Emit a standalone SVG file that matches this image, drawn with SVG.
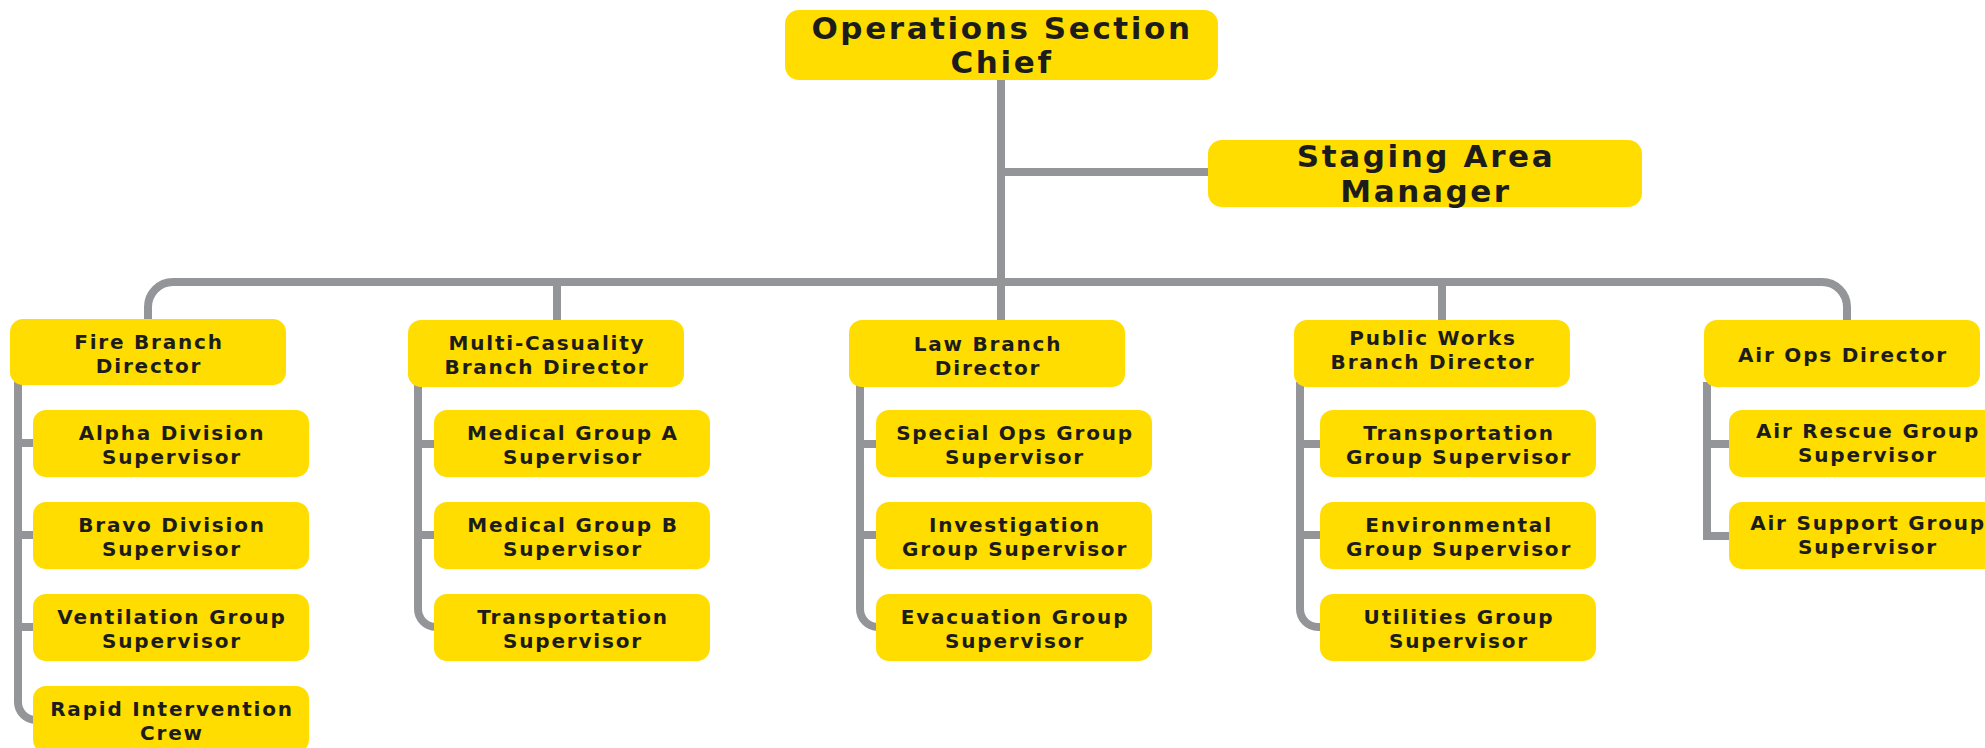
<svg xmlns="http://www.w3.org/2000/svg" width="1985" height="748" viewBox="0 0 1985 748">
<style>
.box{fill:#FFDD00;}
.t{font-family:"DejaVu Sans","Liberation Sans",sans-serif;font-weight:bold;fill:#1c1c1c;text-anchor:middle;}
.big{font-size:31px;letter-spacing:2.6px;}
.sm{font-size:20px;letter-spacing:1.8px;}
.ln{fill:none;stroke:#939598;stroke-width:8;}
</style>
<rect width="1985" height="748" fill="#ffffff"/>
<g id="connectors" class="ln">
<path d="M1001,78 V322"/>
<path d="M1001,172 H1210"/>
<path d="M148,322 V307 A25 25 0 0 1 173,282 H1822 A25 25 0 0 1 1847,307 V322"/>
<path d="M557,282 V322"/>
<path d="M1442,282 V322"/>
<path d="M18,380 V702 A18 18 0 0 0 36,720"/>
<path d="M18,443 H36 M18,535 H36 M18,627 H36"/>
<path d="M418,382 V609 A18 18 0 0 0 436,627"/>
<path d="M418,444 H436 M418,535 H436"/>
<path d="M860,382 V609 A18 18 0 0 0 878,627"/>
<path d="M860,444 H878 M860,535 H878"/>
<path d="M1300,382 V609 A18 18 0 0 0 1318,627 H1322"/>
<path d="M1300,444 H1322 M1300,535 H1322"/>
<path d="M1707,382 V536 H1732"/>
<path d="M1707,444 H1732"/>
</g>
<g id="ops-chief"><rect class="box" x="785" y="10" width="433" height="70" rx="14"/><text class="t big" x="1002" y="39">Operations Section</text><text class="t big" x="1002" y="73">Chief</text></g>
<g id="staging"><rect class="box" x="1208" y="140" width="434" height="67" rx="14"/><text class="t big" x="1426" y="167">Staging Area</text><text class="t big" x="1426" y="202">Manager</text></g>

<g id="fire-branch"><rect class="box" x="10" y="319" width="276" height="66" rx="13"/><text class="t sm" x="149" y="349">Fire Branch</text><text class="t sm" x="149" y="373">Director</text></g>
<g id="alpha"><rect class="box" x="33" y="410" width="276" height="67" rx="13"/><text class="t sm" x="172" y="440">Alpha Division</text><text class="t sm" x="172" y="464">Supervisor</text></g>
<g id="bravo"><rect class="box" x="33" y="502" width="276" height="67" rx="13"/><text class="t sm" x="172" y="532">Bravo Division</text><text class="t sm" x="172" y="556">Supervisor</text></g>
<g id="ventilation"><rect class="box" x="33" y="594" width="276" height="67" rx="13"/><text class="t sm" x="172" y="624">Ventilation Group</text><text class="t sm" x="172" y="648">Supervisor</text></g>
<g id="rapid"><rect class="box" x="33" y="686" width="276" height="67" rx="13"/><text class="t sm" x="172" y="716">Rapid Intervention</text><text class="t sm" x="172" y="740">Crew</text></g>

<g id="multi-branch"><rect class="box" x="408" y="320" width="276" height="67" rx="13"/><text class="t sm" x="547" y="350">Multi-Casuality</text><text class="t sm" x="547" y="374">Branch Director</text></g>
<g id="medical-a"><rect class="box" x="434" y="410" width="276" height="67" rx="13"/><text class="t sm" x="573" y="440">Medical Group A</text><text class="t sm" x="573" y="464">Supervisor</text></g>
<g id="medical-b"><rect class="box" x="434" y="502" width="276" height="67" rx="13"/><text class="t sm" x="573" y="532">Medical Group B</text><text class="t sm" x="573" y="556">Supervisor</text></g>
<g id="transportation-mc"><rect class="box" x="434" y="594" width="276" height="67" rx="13"/><text class="t sm" x="573" y="624">Transportation</text><text class="t sm" x="573" y="648">Supervisor</text></g>

<g id="law-branch"><rect class="box" x="849" y="320" width="276" height="67" rx="13"/><text class="t sm" x="988" y="351">Law Branch</text><text class="t sm" x="988" y="375">Director</text></g>
<g id="special-ops"><rect class="box" x="876" y="410" width="276" height="67" rx="13"/><text class="t sm" x="1015" y="440">Special Ops Group</text><text class="t sm" x="1015" y="464">Supervisor</text></g>
<g id="investigation"><rect class="box" x="876" y="502" width="276" height="67" rx="13"/><text class="t sm" x="1015" y="532">Investigation</text><text class="t sm" x="1015" y="556">Group Supervisor</text></g>
<g id="evacuation"><rect class="box" x="876" y="594" width="276" height="67" rx="13"/><text class="t sm" x="1015" y="624">Evacuation Group</text><text class="t sm" x="1015" y="648">Supervisor</text></g>

<g id="public-works-branch"><rect class="box" x="1294" y="320" width="276" height="67" rx="13"/><text class="t sm" x="1433" y="345">Public Works</text><text class="t sm" x="1433" y="369">Branch Director</text></g>
<g id="transportation-pw"><rect class="box" x="1320" y="410" width="276" height="67" rx="13"/><text class="t sm" x="1459" y="440">Transportation</text><text class="t sm" x="1459" y="464">Group Supervisor</text></g>
<g id="environmental"><rect class="box" x="1320" y="502" width="276" height="67" rx="13"/><text class="t sm" x="1459" y="532">Environmental</text><text class="t sm" x="1459" y="556">Group Supervisor</text></g>
<g id="utilities"><rect class="box" x="1320" y="594" width="276" height="67" rx="13"/><text class="t sm" x="1459" y="624">Utilities Group</text><text class="t sm" x="1459" y="648">Supervisor</text></g>

<g id="air-ops"><rect class="box" x="1704" y="320" width="276" height="67" rx="13"/><text class="t sm" x="1843" y="362">Air Ops Director</text></g>
<g id="air-rescue"><rect class="box" x="1729" y="410" width="276" height="67" rx="13"/><text class="t sm" x="1868" y="438">Air Rescue Group</text><text class="t sm" x="1868" y="462">Supervisor</text></g>
<g id="air-support"><rect class="box" x="1729" y="502" width="276" height="67" rx="13"/><text class="t sm" x="1868" y="530">Air Support Group</text><text class="t sm" x="1868" y="554">Supervisor</text></g>
</svg>
